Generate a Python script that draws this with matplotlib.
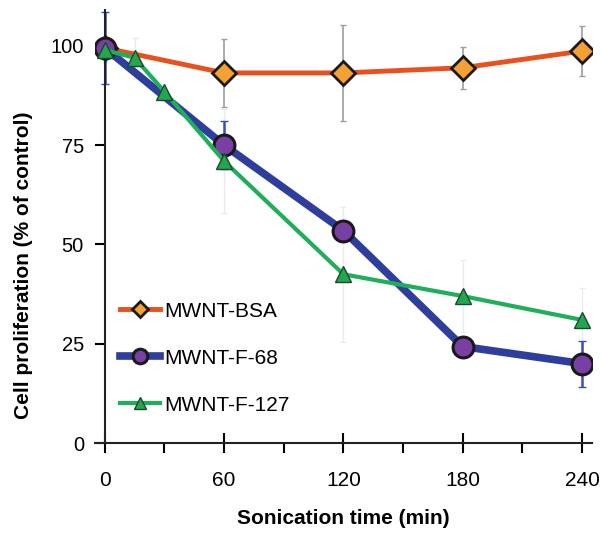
import matplotlib.pyplot as plt
from matplotlib.ticker import MultipleLocator

plt.rcParams['font.family'] = ['Liberation Sans', 'DejaVu Sans']

# Data
t_bsa = [0, 60, 120, 180, 240]
bsa = [99.5, 93.2, 93.2, 94.5, 98.7]
bsa_err = [2, 8.5, 12, 5.3, 6.3]

t_f68 = [0, 60, 120, 180, 240]
f68 = [99.5, 75, 53.5, 24.3, 20]
f68_err = [9, 6, 1, 1, 5.8]

t_f127 = [0, 15, 30, 60, 120, 180, 240]
f127 = [99, 97, 88.5, 71, 42.5, 37, 31]
f127_err = [3, 5, 2, 13, 17, 9, 8]

xticks = [0, 60, 120, 180, 240]
yticks = [0, 25, 50, 75, 100]

fig = plt.figure(figsize=(6.04, 5.36), dpi=100)
ax = fig.add_axes([0.157, 0.1735, 0.823, 0.8075])

# error bars first (under the lines)
ax.errorbar(t_f127, f127, yerr=f127_err, fmt='none', ecolor='#ebebeb', elinewidth=1, capsize=2, zorder=1)
ax.errorbar(t_bsa, bsa, yerr=bsa_err, fmt='none', ecolor='#9aa0a8', elinewidth=1.2, capsize=2.5, zorder=1)
ax.errorbar(t_f68, f68, yerr=f68_err, fmt='none', ecolor='#3a4fb0', elinewidth=1.8, capsize=3, zorder=1)

ax.plot(t_bsa, bsa, color='#e8501e', lw=3.5, marker='D', ms=12, mfc='#f5a033', mec='#1a1a1a', mew=2,
        label='MWNT-BSA', zorder=3)
ax.plot(t_f68, f68, color='#2f3d9c', lw=5.5, marker='o', ms=15, mfc='#7a3fa5', mec='#1a1a1a', mew=2.2,
        label='MWNT-F-68', zorder=4)
ax.plot(t_f127, f127, color='#1fae5a', lw=3, marker='^', ms=12, mfc='#23a552', mec='#1a4a2a', mew=1,
        label='MWNT-F-127', zorder=5)

ax.set_xlim(-5, 245)
ax.set_ylim(0, 109)
ax.spines['left'].set_position(('data', 0))
ax.spines['top'].set_visible(False)
ax.spines['right'].set_visible(False)
for s in ['left', 'bottom']:
    ax.spines[s].set_linewidth(1.5)
    ax.spines[s].set_color('#222222')

ax.set_xticks(xticks)
ax.xaxis.set_minor_locator(MultipleLocator(30))
ax.set_yticks(yticks)
ax.tick_params(axis='x', which='major', direction='inout', length=15, width=1.5, labelsize=15, pad=13)
ax.tick_params(axis='x', which='minor', direction='out', length=7, width=1.5)
ax.tick_params(axis='y', which='major', direction='out', length=7, width=1.5, labelsize=14.5, pad=8)

ax.set_xlabel('Sonication time (min)', fontsize=15, fontweight='bold', labelpad=13)
ax.set_ylabel('Cell proliferation (% of control)', fontsize=15, fontweight='bold')
ax.yaxis.set_label_coords(-0.125, 0.411)

ax.legend(loc='lower left', bbox_to_anchor=(0.034, 0.046), frameon=False, fontsize=15,
          handlelength=1.9, handletextpad=0.2, labelspacing=1.35, markerscale=0.7,
          borderaxespad=0, borderpad=0.4)

fig.savefig('out.png', dpi=100)
